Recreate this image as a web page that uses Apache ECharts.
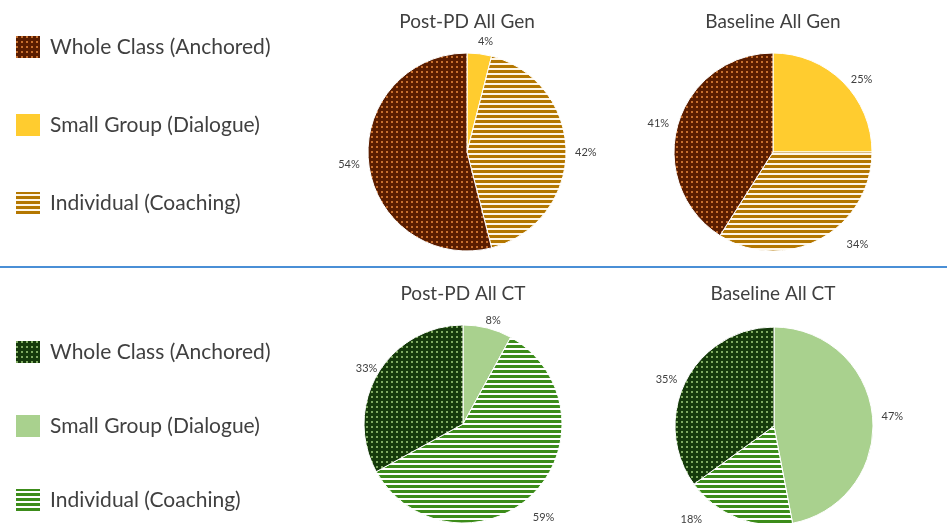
<!DOCTYPE html>
<html>
<head>
<meta charset="utf-8">
<script src="https://cdn.jsdelivr.net/npm/echarts@6/dist/echarts.min.js"></script>
<style>
  html, body { margin: 0; padding: 0; background: #ffffff; }
  #chart { width: 947px; height: 523px; }
</style>
</head>
<body>
<div id="chart"></div>
<script>
// Instruction modes, listed clockwise from 12 o'clock as drawn in every pie
const categories = ['Small Group (Dialogue)', 'Individual (Coaching)', 'Whole Class (Anchored)'];
const legendOrder = ['Whole Class (Anchored)', 'Small Group (Dialogue)', 'Individual (Coaching)'];

// Percent of observations per mode
const postPdGen = [4, 42, 54];
const baselineGen = [25, 34, 41];
const postPdCt = [8, 59, 33];
const baselineCt = [47, 18, 35];

const chartTitles = ['Post-PD All Gen', 'Baseline All Gen', 'Post-PD All CT', 'Baseline All CT'];

// Small label nudges (px) for slices whose label sits off the slice's mid-line
const labelNudges = [
  { 'Small Group (Dialogue)': [-7, -8] },
  { 'Individual (Coaching)': [19, 2] },
  { 'Small Group (Dialogue)': [-8, -4], 'Individual (Coaching)': [-8, 21], 'Whole Class (Anchored)': [8, -3] },
  { 'Individual (Coaching)': [-29, -2] }
];

// Fill helpers: dotted and striped tiles
function dotTile(bg, dot) {
  const c = document.createElement('canvas');
  c.width = 5; c.height = 5;
  const g = c.getContext('2d');
  g.fillStyle = bg; g.fillRect(0, 0, 5, 5);
  g.fillStyle = dot; g.fillRect(1, 1, 2, 2);
  return { image: c, repeat: 'repeat' };
}
function stripeTile(line, gap) {
  const c = document.createElement('canvas');
  c.width = 5; c.height = 5;
  const g = c.getContext('2d');
  g.fillStyle = gap; g.fillRect(0, 0, 5, 5);
  g.fillStyle = line; g.fillRect(0, 0, 5, 3);
  return { image: c, repeat: 'repeat' };
}

const genFills = {
  'Whole Class (Anchored)': dotTile('#5a1d00', '#c8702e'),
  'Small Group (Dialogue)': '#ffcc2f',
  'Individual (Coaching)': stripeTile('#b47700', '#fff6e6')
};
const ctFills = {
  'Whole Class (Anchored)': dotTile('#153a0b', '#7faa60'),
  'Small Group (Dialogue)': '#a9d18e',
  'Individual (Coaching)': stripeTile('#3c8c1a', '#ffffff')
};

function pieSeries(values, fills, center, nudges) {
  return {
    type: 'pie',
    radius: 99,
    center: center,
    startAngle: 90,
    clockwise: true,
    avoidLabelOverlap: false,
    animation: false,
    silent: true,
    itemStyle: { borderColor: '#ffffff', borderWidth: 1 },
    label: {
      show: true,
      position: 'outside',
      formatter: '{c}%',
      fontFamily: 'Lato',
      fontSize: 11,
      color: '#404040'
    },
    labelLine: { show: false, length: 4, length2: 0 },
    data: categories.map((name, i) => ({
      name: name,
      value: values[i],
      itemStyle: { color: fills[name] },
      label: nudges[name] ? { offset: nudges[name] } : undefined
    }))
  };
}

function legendFor(top, gap, fills) {
  return {
    orient: 'vertical',
    left: 14,
    top: top,
    height: 200,
    padding: 0,
    itemWidth: 26,
    itemHeight: 24,
    itemGap: gap,
    icon: 'rect',
    selectedMode: false,
    textStyle: { fontFamily: 'Lato', fontSize: 21, color: '#404040', padding: [0, 0, 0, 4] },
    data: legendOrder.map(name => ({ name: name, icon: 'rect', itemStyle: { color: fills[name] } }))
  };
}

const titlePos = [[467, 22], [773, 22], [463, 294], [773, 294]];

const chart = echarts.init(document.getElementById('chart'), null, { renderer: 'canvas' });
chart.setOption({
  backgroundColor: '#ffffff',
  animation: false,
  legend: [legendFor(34, 52, genFills), legendFor(339, 48, ctFills)],
  graphic: [
    {
      type: 'line',
      shape: { x1: 0, y1: 267, x2: 947, y2: 267 },
      style: { stroke: '#4a8fd6', lineWidth: 2 }
    }
  ].concat(chartTitles.map((t, i) => ({
    type: 'text',
    x: titlePos[i][0],
    y: titlePos[i][1],
    style: {
      text: t,
      font: '19px Lato',
      fill: '#404040',
      textAlign: 'center',
      textVerticalAlign: 'middle'
    }
  }))),
  series: [
    pieSeries(postPdGen, genFills, [467, 152], labelNudges[0]),
    pieSeries(baselineGen, genFills, [773, 152], labelNudges[1]),
    pieSeries(postPdCt, ctFills, [463, 424], labelNudges[2]),
    pieSeries(baselineCt, ctFills, [774, 426], labelNudges[3])
  ]
});
</script>
</body>
</html>
